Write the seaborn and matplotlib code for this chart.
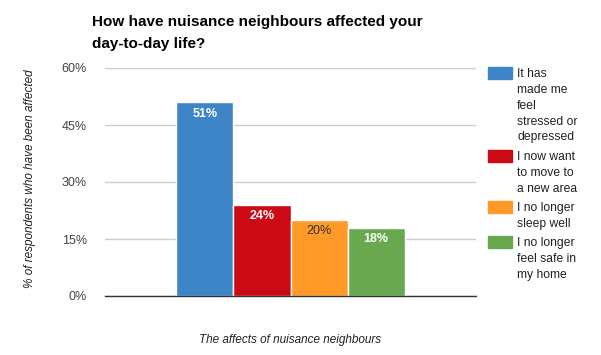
import pandas as pd
import seaborn as sns
import matplotlib.pyplot as plt
from matplotlib.patches import Rectangle
from matplotlib.ticker import FuncFormatter

title = "How have nuisance neighbours affected your\nday-to-day life?"
categories = [
    "It has\nmade me\nfeel\nstressed or\ndepressed",
    "I now want\nto move to\na new area",
    "I no longer\nsleep well",
    "I no longer\nfeel safe in\nmy home",
]
values = [51, 24, 20, 18]
colors = ["#3d85c6", "#cc0a16", "#ff9a28", "#6aa84f"]
label_colors = ["white", "white", "#333333", "white"]
yticks = [0, 15, 30, 45, 60]

sns.set_style("white")
plt.rcParams["font.family"] = ["Liberation Sans", "DejaVu Sans"]

df = pd.DataFrame({"group": [""] * len(values), "answer": categories, "pct": values})

fig = plt.figure(figsize=(6.01, 3.55), dpi=100)
ax = fig.add_axes([105 / 601, 1 - 296 / 355, 371 / 601, 228 / 355])

sns.barplot(data=df, x="group", y="pct", hue="answer", palette=colors,
            width=0.615, dodge=True, saturation=1, edgecolor="white",
            linewidth=1, legend=False, ax=ax)

ax.set_xlim(-0.5, 0.5)
ax.set_ylim(0, 60)
ax.set_yticks(yticks)
ax.yaxis.set_major_formatter(FuncFormatter(lambda v, p: f"{v:.0f}%"))
ax.yaxis.grid(True, color="#cccccc", linewidth=1)
ax.set_axisbelow(True)
ax.tick_params(axis="y", length=0, pad=13, labelsize=9, labelcolor="#444444")
ax.tick_params(axis="x", length=0, labelbottom=False)
for s in ["top", "right", "left"]:
    ax.spines[s].set_visible(False)
ax.spines["bottom"].set_color("#333333")
ax.spines["bottom"].set_linewidth(1)
ax.set_xlabel("")
ax.set_ylabel("")

# value labels inside the bars
for cont, col in zip(ax.containers, label_colors):
    ax.bar_label(cont, labels=[f"{v:.0f}%" for v in cont.datavalues],
                 padding=-12.5, color=col, fontsize=9,
                 fontweight="bold" if col == "white" else "normal")

fig.text(92 / 601, 1 - 15 / 355, title, fontsize=11, fontweight="bold",
         va="top", ha="left", linespacing=1.75, color="#000000")
fig.text(30 / 601, 1 - 179 / 355, "% of respondents who have been affected",
         rotation=90, style="italic", fontsize=8.5, ha="center", va="center",
         color="#222222")
fig.text(290 / 601, 1 - 340 / 355, "The affects of nuisance neighbours",
         style="italic", fontsize=8.5, ha="center", va="center", color="#222222")

# legend on the right
top = 67
for lab, col in zip(categories, colors):
    fig.patches.append(Rectangle((488 / 601, 1 - (top + 12) / 355), 24 / 601, 12 / 355,
                                 transform=fig.transFigure, color=col))
    fig.text(517 / 601, 1 - (top + 1) / 355, lab, fontsize=8.7, va="top",
             ha="left", linespacing=1.43, color="#222222")
    top += lab.count("\n") * 16 + 16 + 3

fig.savefig("out.png", dpi=100)
